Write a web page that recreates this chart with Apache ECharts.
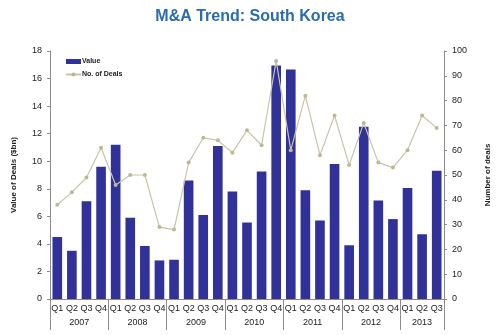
<!DOCTYPE html>
<html>
<head>
<meta charset="utf-8">
<script src="https://cdn.jsdelivr.net/npm/echarts@6/dist/echarts.min.js"></script>
<style>
  html, body { margin: 0; padding: 0; background: #fff; }
  #chart { width: 500px; height: 335px; }
</style>
</head>
<body>
<div id="chart"></div>
<script>
// Quarterly South Korea M&A activity, 2007 Q1 – 2013 Q3
const years = ['2007', '2008', '2009', '2010', '2011', '2012', '2013'];
const quartersPerYear = [4, 4, 4, 4, 4, 4, 3];
const quarters = ['Q1', 'Q2', 'Q3', 'Q4'];

// Deal value in $bn
const dealValue = [
  4.5, 3.5, 7.1, 9.6,
  11.2, 5.9, 3.85, 2.8,
  2.85, 8.6, 6.1, 11.1,
  7.8, 5.55, 9.25, 16.95,
  16.65, 7.9, 5.7, 9.8,
  3.9, 12.5, 7.15, 5.8,
  8.05, 4.7, 9.3
];

// Number of deals
const dealCount = [
  38, 43, 49, 61,
  46, 50, 50, 29,
  28, 55, 65, 64,
  59, 68, 62, 96,
  60, 82, 58, 74,
  54, 71, 55, 53,
  60, 74, 69
];

// Quarter labels for every period, plus year boundaries and centres
const periodLabels = [];
const yearBounds = [0];
const yearCentres = [];
quartersPerYear.forEach((n, i) => {
  for (let q = 0; q < n; q++) periodLabels.push(quarters[q]);
  const start = yearBounds[yearBounds.length - 1];
  yearBounds.push(start + n);
  yearCentres.push(start + n / 2);
});

const axisGrey = '#8c8c8c';
const labelFont = { fontFamily: 'Liberation Sans, Arial, sans-serif', fontSize: 9, color: '#222' };

const chart = echarts.init(document.getElementById('chart'), null, { renderer: 'canvas' });
chart.setOption({
  animation: false,
  backgroundColor: '#fff',
  title: {
    text: 'M&A Trend: South Korea',
    left: 'center',
    top: 4,
    textStyle: {
      fontFamily: 'Liberation Sans, Arial, sans-serif',
      fontSize: 16,
      fontWeight: 'bold',
      color: '#2b6cae'
    }
  },
  legend: {
    orient: 'vertical',
    left: 60,
    top: 53,
    itemWidth: 15,
    itemHeight: 5,
    itemGap: 6,
    textStyle: {
      fontFamily: 'Liberation Sans, Arial, sans-serif',
      fontSize: 7,
      fontWeight: 'bold',
      color: '#222',
      padding: [0, 0, 0, -4]
    },
    data: [
      { name: 'Value', icon: 'rect' },
      { name: 'No. of Deals' }
    ]
  },
  grid: { left: 50, right: 54, top: 51, bottom: 36 },
  xAxis: [
    {
      type: 'category',
      data: periodLabels,
      boundaryGap: true,
      axisLine: { lineStyle: { color: axisGrey, width: 1 } },
      axisTick: { interval: 0, length: 21, lineStyle: { color: axisGrey } },
      axisLabel: Object.assign({ interval: 0, margin: 5 }, labelFont)
    },
    {
      type: 'value',
      position: 'bottom',
      min: 0,
      max: yearBounds[yearBounds.length - 1],
      axisLine: { show: false },
      splitLine: { show: false },
      axisTick: {
        show: true,
        length: 31,
        customValues: yearBounds,
        lineStyle: { color: axisGrey }
      },
      axisLabel: Object.assign({
        margin: 19,
        customValues: yearCentres,
        formatter: v => years[yearCentres.indexOf(v)] || ''
      }, labelFont)
    }
  ],
  yAxis: [
    {
      type: 'value',
      min: 0,
      max: 18,
      interval: 2,
      name: 'Value of Deals ($bn)',
      nameLocation: 'middle',
      nameRotate: 90,
      nameGap: 32,
      nameTextStyle: { fontFamily: 'Liberation Sans, Arial, sans-serif', fontSize: 8, fontWeight: 'bold', color: '#222' },
      axisLine: { show: true, lineStyle: { color: axisGrey } },
      axisTick: { show: true, length: 3, lineStyle: { color: axisGrey } },
      splitLine: { show: false },
      axisLabel: Object.assign({ margin: 8 }, labelFont)
    },
    {
      type: 'value',
      min: 0,
      max: 100,
      interval: 10,
      position: 'right',
      name: 'Number of deals',
      nameLocation: 'middle',
      nameRotate: 90,
      nameGap: 40,
      nameTextStyle: { fontFamily: 'Liberation Sans, Arial, sans-serif', fontSize: 8, fontWeight: 'bold', color: '#222' },
      axisLine: { show: true, lineStyle: { color: axisGrey } },
      axisTick: { show: true, length: 3, lineStyle: { color: axisGrey } },
      splitLine: { show: false },
      axisLabel: Object.assign({ margin: 8 }, labelFont)
    }
  ],
  series: [
    {
      name: 'Value',
      type: 'bar',
      xAxisIndex: 0,
      yAxisIndex: 0,
      data: dealValue,
      barWidth: '66%',
      itemStyle: { color: '#31319a' }
    },
    {
      name: 'No. of Deals',
      type: 'line',
      xAxisIndex: 0,
      yAxisIndex: 1,
      data: dealCount,
      symbol: 'circle',
      symbolSize: 4,
      lineStyle: { color: '#c9c4a6', width: 1.2 },
      itemStyle: { color: '#bdb894' }
    }
  ]
});
</script>
</body>
</html>
